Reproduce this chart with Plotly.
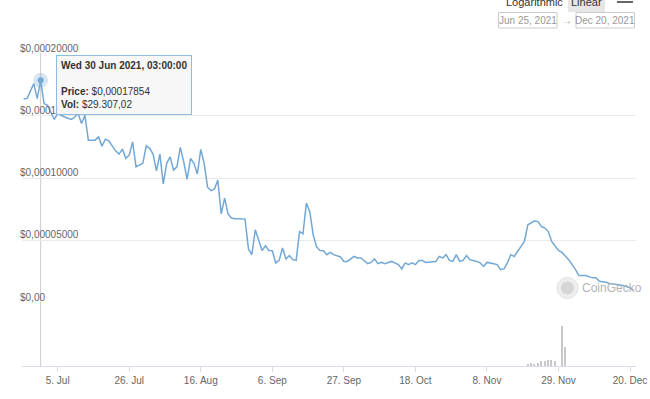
import plotly.graph_objects as go

# ---------------- data ----------------
price_dates = [
    "2021-06-25", "2021-06-26", "2021-06-28", "2021-06-29", "2021-06-30", "2021-07-01", "2021-07-02",
    "2021-07-04", "2021-07-05", "2021-07-06", "2021-07-07", "2021-07-09", "2021-07-10", "2021-07-11",
    "2021-07-12", "2021-07-13", "2021-07-14", "2021-07-16", "2021-07-17", "2021-07-18", "2021-07-19",
    "2021-07-20", "2021-07-22", "2021-07-23", "2021-07-24", "2021-07-25", "2021-07-26", "2021-07-27",
    "2021-07-28", "2021-07-30", "2021-07-31", "2021-08-01", "2021-08-02", "2021-08-03", "2021-08-04",
    "2021-08-05", "2021-08-06", "2021-08-07", "2021-08-08", "2021-08-09", "2021-08-10", "2021-08-11",
    "2021-08-12", "2021-08-13", "2021-08-14", "2021-08-15", "2021-08-16", "2021-08-17", "2021-08-18",
    "2021-08-19", "2021-08-20", "2021-08-21", "2021-08-22", "2021-08-23", "2021-08-24", "2021-08-25",
    "2021-08-26", "2021-08-27", "2021-08-28", "2021-08-29", "2021-08-30", "2021-08-31", "2021-09-01",
    "2021-09-02", "2021-09-03", "2021-09-04", "2021-09-05", "2021-09-06", "2021-09-07", "2021-09-08",
    "2021-09-09", "2021-09-10", "2021-09-11", "2021-09-12", "2021-09-13", "2021-09-14", "2021-09-15",
    "2021-09-16", "2021-09-17", "2021-09-18", "2021-09-19", "2021-09-20", "2021-09-21", "2021-09-22",
    "2021-09-23", "2021-09-24", "2021-09-26", "2021-09-27", "2021-09-28", "2021-09-30", "2021-10-01",
    "2021-10-02", "2021-10-04", "2021-10-05", "2021-10-06", "2021-10-07", "2021-10-08", "2021-10-09",
    "2021-10-11", "2021-10-13", "2021-10-14", "2021-10-15", "2021-10-16", "2021-10-17", "2021-10-18",
    "2021-10-19", "2021-10-20", "2021-10-21", "2021-10-24", "2021-10-25", "2021-10-26", "2021-10-27",
    "2021-10-28", "2021-10-29", "2021-10-30", "2021-10-31", "2021-11-01", "2021-11-02", "2021-11-03",
    "2021-11-05", "2021-11-06", "2021-11-07", "2021-11-08", "2021-11-10", "2021-11-11", "2021-11-12",
    "2021-11-13", "2021-11-14", "2021-11-15", "2021-11-16", "2021-11-17", "2021-11-19", "2021-11-20",
    "2021-11-21", "2021-11-22", "2021-11-23", "2021-11-24", "2021-11-25", "2021-11-26", "2021-11-27",
    "2021-11-29", "2021-11-30", "2021-12-01", "2021-12-02", "2021-12-04", "2021-12-05", "2021-12-07",
    "2021-12-09", "2021-12-10", "2021-12-11", "2021-12-13", "2021-12-14", "2021-12-16", "2021-12-18",
    "2021-12-20", "2021-12-21",
]
price_values = [
    0.0001636, 0.0001638, 0.0001758, 0.0001638, 0.00017854, 0.0001598, 0.0001584,
    0.0001470, 0.0001518, 0.0001504, 0.0001490, 0.0001470, 0.0001490, 0.0001518,
    0.0001438, 0.0001504, 0.0001304, 0.0001304, 0.0001330, 0.0001256, 0.0001312,
    0.0001298, 0.0001218, 0.0001192, 0.0001232, 0.0001158, 0.0001184, 0.0001290,
    0.0001090, 0.0001118, 0.0001258, 0.0001238, 0.0001192, 0.0001058, 0.0001192,
    0.0000952, 0.0001118, 0.0001170, 0.0001064, 0.0001090, 0.0001246, 0.0001130,
    0.0000990, 0.0001158, 0.0001118, 0.0001032, 0.0001230, 0.0001118, 0.0000926,
    0.0000898, 0.0000910, 0.0000984, 0.0000712, 0.0000838, 0.0000712, 0.0000678,
    0.0000672, 0.0000673, 0.0000672, 0.0000670, 0.0000430, 0.0000384, 0.0000584,
    0.0000504, 0.0000418, 0.0000456, 0.0000418, 0.0000416, 0.0000318, 0.0000338,
    0.0000438, 0.0000350, 0.0000376, 0.0000344, 0.0000338, 0.0000570, 0.0000552,
    0.0000798, 0.0000730, 0.0000544, 0.0000446, 0.0000418, 0.0000416, 0.0000384,
    0.0000402, 0.0000384, 0.0000366, 0.0000330, 0.0000330, 0.0000370, 0.0000358,
    0.0000358, 0.0000312, 0.0000322, 0.0000350, 0.0000312, 0.0000322, 0.0000312,
    0.0000330, 0.0000304, 0.0000270, 0.0000318, 0.0000304, 0.0000318, 0.0000304,
    0.0000338, 0.0000338, 0.0000322, 0.0000330, 0.0000370, 0.0000358, 0.0000384,
    0.0000338, 0.0000330, 0.0000384, 0.0000330, 0.0000338, 0.0000378, 0.0000344,
    0.0000330, 0.0000318, 0.0000290, 0.0000322, 0.0000312, 0.0000304, 0.0000264,
    0.0000270, 0.0000318, 0.0000384, 0.0000370, 0.0000410, 0.0000490, 0.0000624,
    0.0000642, 0.0000656, 0.0000650, 0.0000610, 0.0000598, 0.0000570, 0.0000490,
    0.0000418, 0.0000402, 0.0000376, 0.0000344, 0.0000264, 0.0000216, 0.0000216,
    0.0000198, 0.0000198, 0.0000170, 0.0000162, 0.0000152, 0.0000144, 0.0000136,
    0.0000118, 0.0000098,
]

vol_dates = ["2021-11-20", "2021-11-21", "2021-11-22", "2021-11-23", "2021-11-24",
             "2021-11-25", "2021-11-26", "2021-11-27", "2021-11-28", "2021-11-30", "2021-12-01"]
vol_values = [100000, 180000, 140000, 180000, 300000, 280000, 340000, 340000, 300000,
              2400000, 1140000]

price_tick_vals = [0, 0.00005, 0.0001, 0.00015, 0.0002]
price_tick_text = ["$0,00", "$0,00005000", "$0,00010000", "$0,00015000", "$0,00020000"]

date_tick_vals = ["2021-07-05", "2021-07-26", "2021-08-16", "2021-09-06", "2021-09-27",
                  "2021-10-18", "2021-11-08", "2021-11-29", "2021-12-20"]
date_tick_text = ["5. Jul", "26. Jul", "16. Aug", "6. Sep", "27. Sep",
                  "18. Oct", "8. Nov", "29. Nov", "20. Dec"]

hover_date = "2021-06-30"
hover_title = "Wed 30 Jun 2021, 03:00:00"
hover_price_text = "$0,00017854"
hover_vol = "$29.307,02"

# ---------------- figure ----------------
LINE = "#72a8d5"
FONT = "Liberation Sans"

W, H = 650, 399
ML, MR, MT, MB = 22, 14, 53, 33
PW, PH = W - ML - MR, H - MT - MB


def px(x):
    return (x - ML) / PW


def py(y):
    return (H - MB - y) / PH


split = py(303)

hi = price_dates.index(hover_date)
hover_price = price_values[hi]

fig = go.Figure()

fig.add_trace(go.Bar(
    x=vol_dates, y=vol_values, yaxis="y2", xaxis="x",
    marker=dict(color="#c8c8c8", line=dict(width=0)),
    width=0.45 * 86400000, hoverinfo="skip",
))

fig.add_trace(go.Scatter(
    x=price_dates, y=price_values, mode="lines", yaxis="y", xaxis="x",
    line=dict(color=LINE, width=1.5), hoverinfo="skip",
))

# hovered point halo + dot
fig.add_trace(go.Scatter(
    x=[price_dates[hi]], y=[hover_price], mode="markers", yaxis="y",
    marker=dict(size=15, color="rgba(124,173,216,0.30)", line=dict(width=0)),
    hoverinfo="skip",
))
fig.add_trace(go.Scatter(
    x=[price_dates[hi]], y=[hover_price], mode="markers", yaxis="y",
    marker=dict(size=6, color=LINE, line=dict(width=0)),
    hoverinfo="skip",
))

shapes = []
# crosshair
shapes.append(dict(type="line", xref="x", yref="paper", x0=price_dates[hi], x1=price_dates[hi],
                   y0=0, y1=1, line=dict(color="#cccccc", width=1), layer="below"))

# top-right controls
shapes.append(dict(type="rect", xref="paper", yref="paper", x0=px(568), x1=px(605), y0=py(12), y1=py(-5),
                   fillcolor="#e6e6e6", line=dict(width=0)))
for yy in [-3, 2]:
    shapes.append(dict(type="line", xref="paper", yref="paper", x0=px(617), x1=px(633), y0=py(yy), y1=py(yy),
                       line=dict(color="#666666", width=2)))
shapes.append(dict(type="rect", xref="paper", yref="paper", x0=px(498.5), x1=px(557), y0=py(28), y1=py(12.5),
                   fillcolor="white", line=dict(color="#cccccc", width=1)))
shapes.append(dict(type="rect", xref="paper", yref="paper", x0=px(576), x1=px(634.5), y0=py(28), y1=py(12.5),
                   fillcolor="white", line=dict(color="#cccccc", width=1)))
# watermark logo
shapes.append(dict(type="circle", xref="paper", yref="paper", x0=px(557), x1=px(578), y0=py(298.5), y1=py(277.5),
                   fillcolor="#eeeeee", line=dict(color="#e0e0e0", width=1), layer="below"))
shapes.append(dict(type="circle", xref="paper", yref="paper", x0=px(561), x1=px(574), y0=py(294.5), y1=py(281.5),
                   fillcolor="#d6d6d6", line=dict(width=0), layer="below"))

annotations = []
# y-axis labels, Highcharts style: left aligned, sitting on top of each grid line
for v, t in zip(price_tick_vals, price_tick_text):
    annotations.append(dict(xref="paper", yref="y", x=px(18), y=v, xanchor="left", yanchor="bottom",
                            text=t, showarrow=False, yshift=-2,
                            font=dict(family=FONT, size=10, color="#666666")))
# tooltip
annotations.append(dict(
    xref="paper", yref="paper", x=px(56), y=py(55), xanchor="left", yanchor="top",
    showarrow=False, align="left",
    text=f"<b>{hover_title}</b><br><br><b>Price:</b> {hover_price_text}<br><b>Vol:</b> {hover_vol}",
    font=dict(family=FONT, size=10, color="#333333"),
    bgcolor="rgba(247,247,247,0.95)", bordercolor="#8fbbe3", borderwidth=1, borderpad=4,
))


def label(x, y, text, size, color, xanchor="center"):
    return dict(xref="paper", yref="paper", x=px(x), y=py(y), text=text, showarrow=False,
                xanchor=xanchor, yanchor="middle", font=dict(family=FONT, size=size, color=color))


annotations += [
    label(534, 2, "Logarithmic", 11, "#333333"),
    label(586.5, 2, "Linear", 11, "#333333"),
    label(527.7, 20.5, "Jun 25, 2021", 10, "#999999"),
    label(566.5, 20.5, "→", 10, "#999999"),
    label(605.2, 20.5, "Dec 20, 2021", 10, "#999999"),
    label(580, 288, "CoinGecko", 12, "#b4b4b4", xanchor="left"),
]

fig.update_layout(
    width=W, height=H,
    margin=dict(l=ML, r=MR, t=MT, b=MB, pad=0, autoexpand=False),
    paper_bgcolor="white", plot_bgcolor="white",
    showlegend=False,
    bargap=0,
    shapes=shapes,
    annotations=annotations,
    font=dict(family=FONT, size=10, color="#666666"),
    xaxis=dict(
        anchor="y2", type="date", automargin=False,
        range=["2021-06-24 12:40", "2021-12-21 18:00"],
        tickvals=date_tick_vals, ticktext=date_tick_text,
        tickfont=dict(family=FONT, size=10, color="#666666"),
        showgrid=False, zeroline=False,
        showline=True, linecolor="#d8dde6", linewidth=1,
        ticks="outside", ticklen=5, tickcolor="#d8dde6",
    ),
    yaxis=dict(
        anchor="x", domain=[split, 1], automargin=False,
        range=[-0.0000004, 0.0002004],
        tickvals=price_tick_vals, showticklabels=False,
        showgrid=True, gridcolor="#ebebeb", gridwidth=1,
        zeroline=False, showline=False, ticks="",
    ),
    yaxis2=dict(
        anchor="x", domain=[0, split], automargin=False,
        range=[0, 3780000],
        showticklabels=False, showgrid=False, zeroline=False, showline=False, ticks="",
    ),
)

fig.write_html(
    "out.html",
    config={"displayModeBar": False},
    post_script="document.body.style.margin='0px';document.body.style.overflow='hidden';",
)
